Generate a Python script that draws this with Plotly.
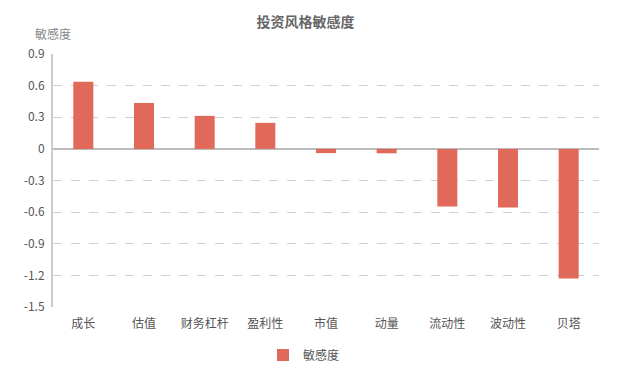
import plotly.graph_objects as go

categories = ["成长", "估值", "财务杠杆", "盈利性", "市值", "动量", "流动性", "波动性", "贝塔"]
values = [0.636, 0.436, 0.313, 0.247, -0.04, -0.042, -0.547, -0.557, -1.23]
tick_vals = [0.9, 0.6, 0.3, 0, -0.3, -0.6, -0.9, -1.2, -1.5]
tick_text = ["0.9", "0.6", "0.3", "0", "-0.3", "-0.6", "-0.9", "-1.2", "-1.5"]

FONT = "Noto Sans CJK SC, Noto Sans, sans-serif"

fig = go.Figure()
fig.add_trace(go.Bar(
    x=categories, y=values, name="敏感度",
    marker=dict(color="#e0695a", line=dict(width=0)),
    width=0.33,
))

fig.update_layout(
    width=624, height=379,
    margin=dict(l=53, r=25, t=54, b=72, autoexpand=False),
    paper_bgcolor="white", plot_bgcolor="white",
    font=dict(family=FONT, size=12, color="#555"),
    title=dict(text="<b>投资风格敏感度</b>", x=305.5 / 624, xanchor="center",
               yref="container", y=1 - 22 / 379, yanchor="middle",
               font=dict(size=14, color="#666", family=FONT)),
    showlegend=True,
    legend=dict(orientation="h", x=(263 - 53) / 546, xanchor="left",
                yref="container", y=1 - 355 / 379, yanchor="middle",
                font=dict(size=12, color="#555"), itemsizing="constant"),
)
fig.update_xaxes(showline=False, showgrid=False, ticks="", automargin=False,
                 ticklabelstandoff=8, tickfont=dict(size=12, color="#555"))
fig.update_yaxes(range=[-1.5, 0.9], tickvals=tick_vals, ticktext=tick_text, automargin=False,
                 showgrid=True, gridcolor="#d0d0d0", griddash="dash", gridwidth=1,
                 zeroline=True, zerolinecolor="#bbbbbb", zerolinewidth=2,
                 showline=True, linecolor="#cccccc", linewidth=2, ticks="",
                 ticklabelstandoff=4, tickfont=dict(size=12, color="#555"))
fig.add_annotation(text="敏感度", xref="paper", yref="paper", x=0, y=1, xshift=0, yshift=21,
                   showarrow=False, xanchor="center", yanchor="middle",
                   font=dict(size=12, color="#888", family=FONT))

fig.write_html("out.html", config={"displayModeBar": False},
               post_script="document.body.style.margin='0';")
